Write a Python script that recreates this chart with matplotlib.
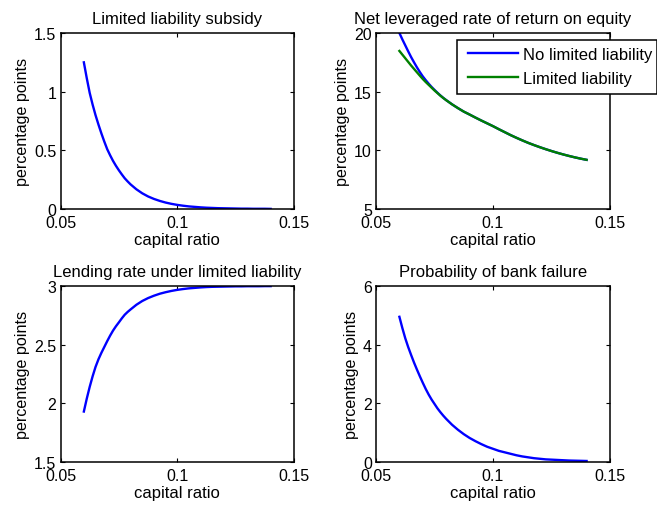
import numpy as np
import matplotlib
matplotlib.use("Agg")
import matplotlib.pyplot as plt
from matplotlib.patches import Rectangle

plt.rcParams['font.family'] = ['Liberation Sans', 'DejaVu Sans']
FS_TICK = 11.5
FS_TEXT = 12
FS_YLAB = 11.6

# capital ratio grid (finer where curves are steep)
capital_ratio = [0.06000, 0.06125, 0.06250, 0.06375, 0.06500, 0.06625, 0.06750, 0.06875,
                 0.07000, 0.07125, 0.07250, 0.07375, 0.07500, 0.07625, 0.07750, 0.07875,
                 0.08000, 0.0825, 0.0850, 0.0875, 0.0900, 0.0925, 0.0950, 0.0975,
                 0.1000, 0.1025, 0.1050, 0.1075, 0.1100, 0.1125, 0.1150, 0.1175,
                 0.1200, 0.1225, 0.1250, 0.1275, 0.1300, 0.1325, 0.1350, 0.1375,
                 0.1400]

subsidy = [1.25, 1.115, 0.99, 0.89, 0.80, 0.72, 0.645, 0.575,
           0.51, 0.458, 0.41, 0.368, 0.33, 0.295, 0.262, 0.235,
           0.21, 0.168, 0.134, 0.107, 0.086, 0.069, 0.055, 0.044,
           0.035, 0.028, 0.022, 0.018, 0.014, 0.011, 0.009, 0.007,
           0.006, 0.005, 0.004, 0.003, 0.003, 0.002, 0.002, 0.002,
           0.001]

roe_no_ll = [20.0, 19.46, 18.95, 18.44, 17.95, 17.50, 17.07, 16.67,
             16.30, 15.98, 15.68, 15.40, 15.15, 14.91, 14.68, 14.47,
             14.28, 13.92, 13.60, 13.30, 13.05, 12.79, 12.54, 12.30,
             12.06, 11.80, 11.55, 11.30, 11.07, 10.85, 10.64, 10.45,
             10.27, 10.10, 9.94, 9.79, 9.65, 9.52, 9.40, 9.29,
             9.19]

roe_ll = [18.47, 18.16, 17.85, 17.54, 17.23, 16.94, 16.65, 16.36,
          16.08, 15.82, 15.58, 15.34, 15.10, 14.88, 14.66, 14.46,
          14.27, 13.92, 13.60, 13.30, 13.05, 12.79, 12.54, 12.30,
          12.06, 11.80, 11.55, 11.30, 11.07, 10.85, 10.64, 10.45,
          10.27, 10.10, 9.94, 9.79, 9.65, 9.52, 9.40, 9.29,
          9.19]

lending_rate = [1.93, 2.04, 2.14, 2.23, 2.31, 2.375, 2.43, 2.48,
                2.53, 2.577, 2.62, 2.657, 2.69, 2.724, 2.755, 2.779,
                2.80, 2.84, 2.872, 2.897, 2.917, 2.934, 2.947, 2.958,
                2.967, 2.974, 2.980, 2.984, 2.988, 2.991, 2.993, 2.994,
                2.995, 2.996, 2.997, 2.997, 2.998, 2.998, 2.998, 2.999,
                2.999]

prob_failure = [4.95, 4.57, 4.22, 3.92, 3.65, 3.39, 3.15, 2.92,
                2.70, 2.49, 2.30, 2.13, 1.98, 1.83, 1.70, 1.58,
                1.47, 1.27, 1.10, 0.95, 0.82, 0.71, 0.61, 0.52,
                0.45, 0.38, 0.33, 0.28, 0.23, 0.19, 0.16, 0.13,
                0.11, 0.09, 0.08, 0.07, 0.06, 0.05, 0.045, 0.04,
                0.035]

x_ticks = [0.05, 0.1, 0.15]
x_ticklabels = ["0.05", "0.1", "0.15"]

titles = ["Limited liability subsidy",
          "Net leveraged rate of return on equity",
          "Lending rate under limited liability",
          "Probability of bank failure"]
y_ticks = [[0, 0.5, 1, 1.5], [5, 10, 15, 20], [1.5, 2, 2.5, 3], [0, 2, 4, 6]]
y_ticklabels = [["0", "0.5", "1", "1.5"], ["5", "10", "15", "20"],
                ["1.5", "2", "2.5", "3"], ["0", "2", "4", "6"]]
legend_labels = ["No limited liability", "Limited liability"]

W, H = 657, 506
fig = plt.figure(figsize=(W / 100, H / 100), dpi=100)

def px_axes(l, r, t, b):
    return fig.add_axes([l / W, 1 - b / H, (r - l) / W, (b - t) / H])

ax1 = px_axes(60.5, 294, 34, 210)
ax2 = px_axes(376, 610, 34, 210)
ax3 = px_axes(60.5, 294, 287, 463)
ax4 = px_axes(376, 610, 287, 463)
axes = [ax1, ax2, ax3, ax4]

BLUE = '#0000FF'
GREEN = '#008000'
LW = 1.7

ax1.plot(capital_ratio, subsidy, color=BLUE, lw=LW)
l1, = ax2.plot(capital_ratio, roe_no_ll, color=BLUE, lw=LW)
l2, = ax2.plot(capital_ratio, roe_ll, color=GREEN, lw=LW)
ax3.plot(capital_ratio, lending_rate, color=BLUE, lw=LW)
ax4.plot(capital_ratio, prob_failure, color=BLUE, lw=LW)

for i, ax in enumerate(axes):
    ax.set_xlim(0.05, 0.15)
    ax.set_ylim(y_ticks[i][0], y_ticks[i][-1])
    ax.set_xticks(x_ticks)
    ax.set_xticklabels(x_ticklabels)
    ax.set_yticks(y_ticks[i])
    ax.set_yticklabels(y_ticklabels[i])
    ax.tick_params(direction='in', top=True, right=True, length=3, width=0.8,
                   labelsize=FS_TICK, pad=3, colors='black')
    ax.tick_params(axis='x', pad=4)
    for s in ax.spines.values():
        s.set_linewidth(1.1)
        s.set_color('black')
    ax.set_title(titles[i], fontsize=FS_TEXT, pad=7)
    ax.set_xlabel("capital ratio", fontsize=FS_TEXT, labelpad=2)
    ax.set_ylabel("percentage points", fontsize=FS_YLAB, labelpad=3)

# legend entries (frame drawn separately to match the wide MATLAB box)
fs_px = FS_TEXT * 100 / 72
leg = fig.legend([l1, l2], legend_labels, loc='upper left',
                 bbox_to_anchor=((468 - 0.4 * fs_px) / W, 1 - 41.5 / H),
                 borderaxespad=0, frameon=False, fontsize=FS_TEXT,
                 handlelength=3.0, handletextpad=0.28, borderpad=0.4,
                 labelspacing=0.52)
box = Rectangle((457 / W, 1 - 95 / H), 200 / W, 54 / H, transform=fig.transFigure,
                facecolor='white', edgecolor='black', lw=1.1, zorder=5,
                clip_on=False)
fig.add_artist(box)
leg.set_zorder(6)

fig.savefig("out.png", dpi=100)
